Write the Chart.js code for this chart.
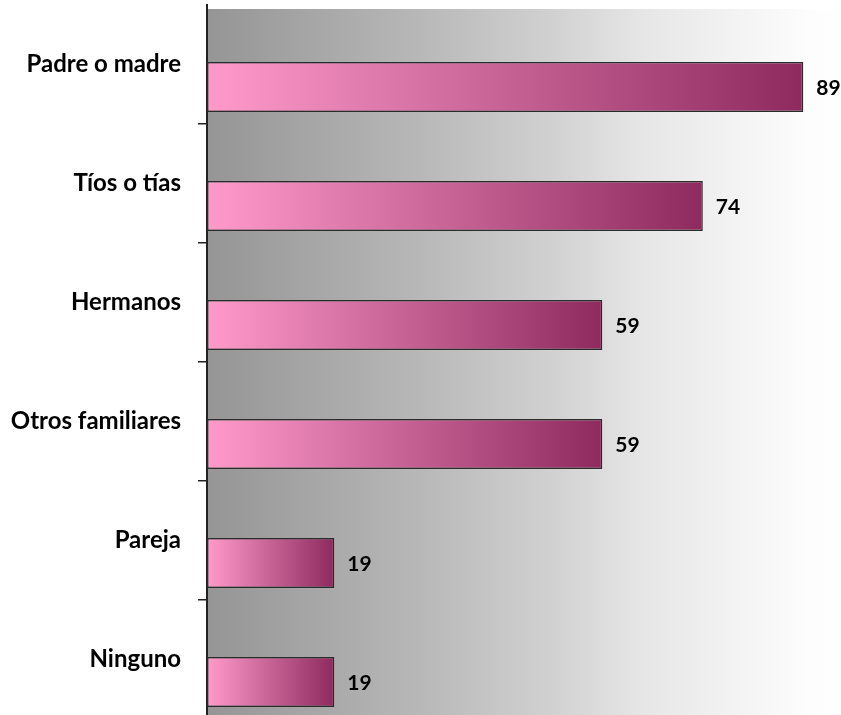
<!DOCTYPE html>
<html>
<head>
<meta charset="utf-8">
<script src="https://cdn.jsdelivr.net/npm/chart.js@4.4.0/dist/chart.umd.min.js"></script>
<style>
  html, body { margin: 0; padding: 0; background: #fff; overflow: hidden; }
</style>
</head>
<body>
<canvas id="chart-bars" width="877" height="719"></canvas>
<script>
// chart data
var categories = ['Padre o madre', 'Tíos o tías', 'Hermanos', 'Otros familiares', 'Pareja', 'Ninguno'];
var values = [89, 74, 59, 59, 19, 19];
var axisMax = 100;

var labelFont = { family: 'Lato', size: 24, weight: 'bold' };

// grey -> white fill behind the plot
var plotBackground = {
  id: 'plotBackground',
  beforeDraw: function(chart) {
    var a = chart.chartArea, ctx = chart.ctx;
    if (!a) return;
    var g = ctx.createLinearGradient(a.left, 0, a.right, 0);
    g.addColorStop(0, '#959595');
    g.addColorStop(0.32, '#b8b8b8');
    g.addColorStop(0.53, '#d3d3d3');
    g.addColorStop(0.65, '#e6e6e6');
    g.addColorStop(0.9, '#fdfdfd');
    g.addColorStop(1, '#ffffff');
    ctx.save();
    ctx.fillStyle = g;
    ctx.fillRect(a.left, a.top + 4, a.right - a.left, a.bottom - a.top - 4);
    ctx.restore();
  }
};

// numbers at the end of each bar
var valueLabels = {
  id: 'valueLabels',
  afterDatasetsDraw: function(chart) {
    var ctx = chart.ctx;
    var meta = chart.getDatasetMeta(1);
    ctx.save();
    ctx.font = 'bold 21px Lato';
    ctx.fillStyle = '#000';
    ctx.textAlign = 'left';
    ctx.textBaseline = 'middle';
    meta.data.forEach(function(bar, i) {
      ctx.fillText(values[i], bar.x + 13, bar.y + 1);
    });
    ctx.restore();
  }
};

function barGradient(context) {
  var chart = context.chart;
  var xs = chart.scales.x;
  if (!xs || context.raw == null) return '#ff99cc';
  var x0 = xs.getPixelForValue(0);
  var x1 = xs.getPixelForValue(context.raw);
  if (!isFinite(x0) || !isFinite(x1) || x1 === x0) return '#ff99cc';
  var g = chart.ctx.createLinearGradient(x0, 0, x1, 0);
  g.addColorStop(0, '#ff9acb');
  g.addColorStop(1, '#8e2a5e');
  return g;
}

new Chart('chart-bars', {
  type: 'bar',
  plugins: [plotBackground, valueLabels],
  data: {
    labels: categories,
    datasets: [
      { label: '', data: [] },   // empty slot, pushes the bars to the lower half
      {
        label: 'Personas',
        data: values,
        backgroundColor: barGradient,
        borderColor: '#2b2b2b',
        borderWidth: 1.5,
        borderSkipped: false
      }
    ]
  },
  options: {
    indexAxis: 'y',
    responsive: false,
    animation: false,
    layout: { padding: { top: 5, right: 0, bottom: 0, left: 0 } },
    plugins: {
      legend: { display: false },
      tooltip: { enabled: false }
    },
    datasets: { bar: { categoryPercentage: 0.756, barPercentage: 1.11 } },
    scales: {
      x: { display: false, min: 0, max: axisMax },
      y: {
        afterFit: function(scale) {
          scale.width = 207;
          scale.paddingTop = 0;
          scale.paddingBottom = 0;
        },
        border: { display: true, color: '#222', width: 2 },
        grid: {
          offset: true,
          drawOnChartArea: false,
          drawTicks: true,
          tickLength: 9,
          lineWidth: 1.5,
          color: function(ctx) { return ctx.index === 0 ? 'rgba(0,0,0,0)' : '#222'; }
        },
        ticks: { color: '#000', font: labelFont, padding: 17 }
      }
    }
  }
});
</script>
</body>
</html>
